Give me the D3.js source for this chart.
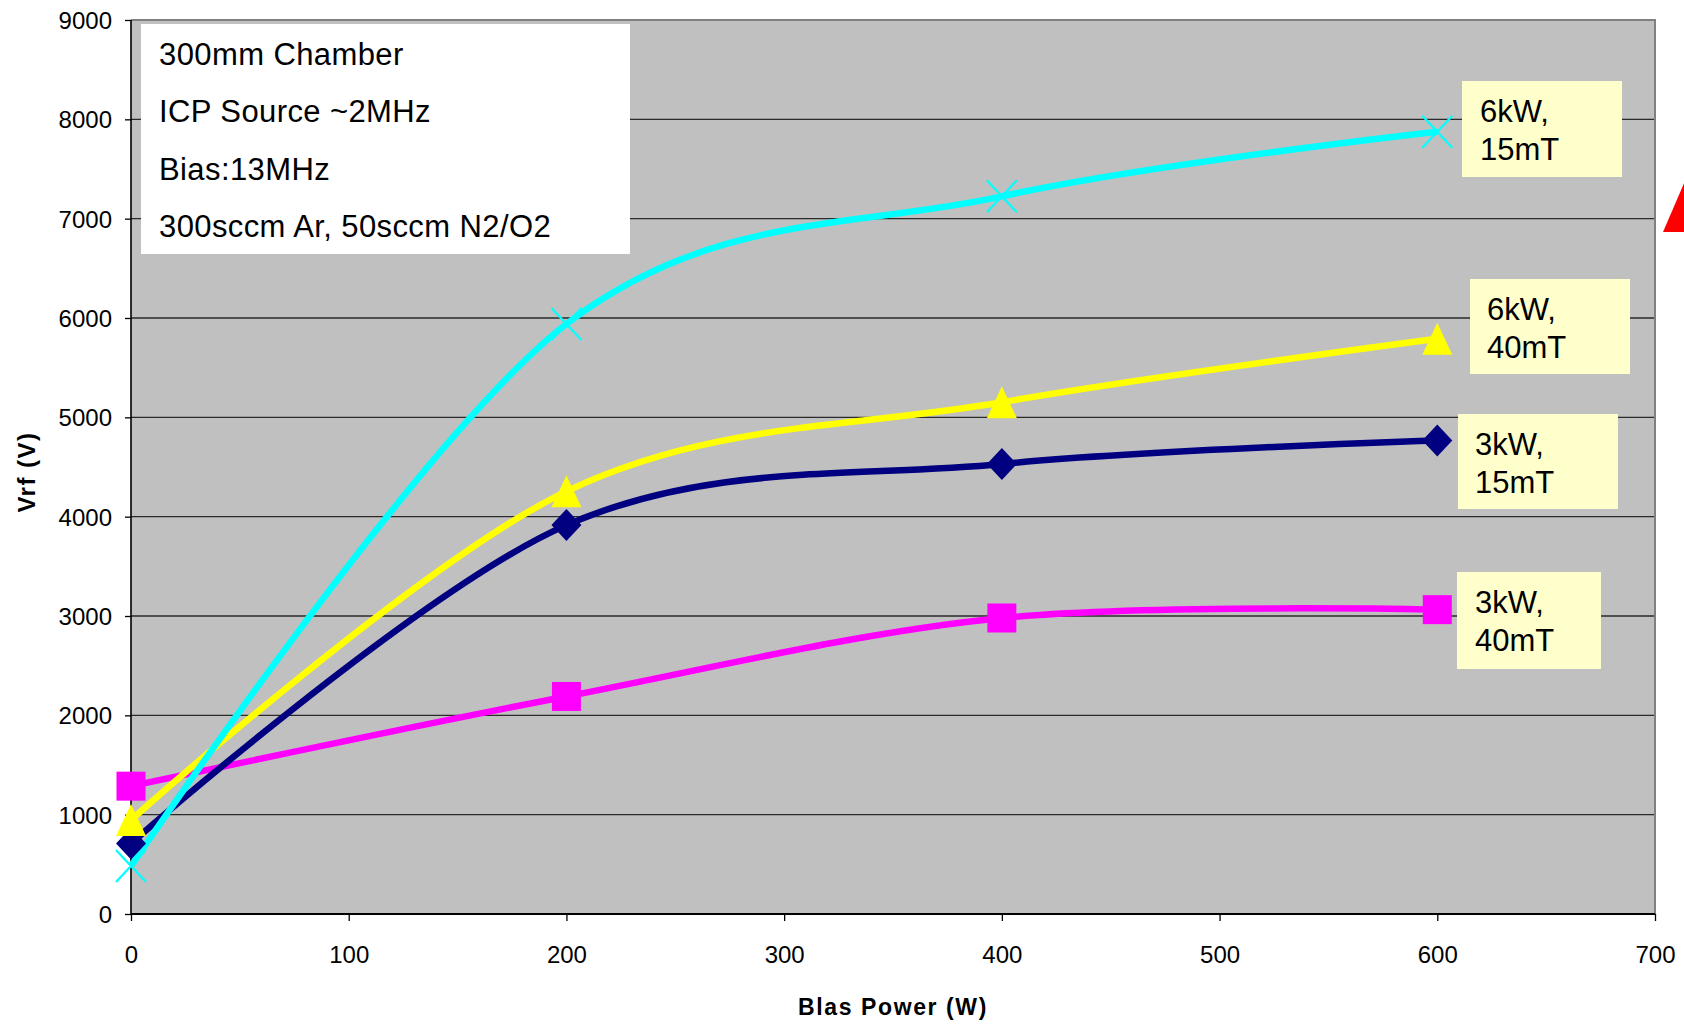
<!DOCTYPE html>
<html><head><meta charset="utf-8">
<script src="https://cdn.jsdelivr.net/npm/d3@7/dist/d3.min.js"></script>
<style>
body{margin:0;background:#fff;}
svg{display:block;font-family:Arial,"Liberation Sans",sans-serif;}
</style>
</head><body>
<svg id="chart" width="1684" height="1024"></svg>
<script>
// ---------- data ----------
const biasPower = [0, 200, 400, 600];
const vrf_3kW_40mT = [1287, 2190, 2980, 3064];
const vrf_3kW_15mT = [710, 3915, 4530, 4766];
const vrf_6kW_40mT = [946, 4255, 5152, 5791];
const vrf_6kW_15mT = [483, 5940, 7225, 7875];
const seriesLabels = [["3kW,", "40mT"], ["3kW,", "15mT"], ["6kW,", "40mT"], ["6kW,", "15mT"]];
const xTicks = [0, 100, 200, 300, 400, 500, 600, 700];
const yTicks = [0, 1000, 2000, 3000, 4000, 5000, 6000, 7000, 8000, 9000];
const infoLines = ["300mm Chamber", "ICP Source ~2MHz", "Bias:13MHz", "300sccm Ar, 50sccm N2/O2"];
const xTitle = "Blas Power (W)";
const yTitle = "Vrf (V)";

// ---------- layout / style ----------
const plot = {left: 131, right: 1655, top: 20, bottom: 914};
const seriesStyle = [
  {color: "#FF00FF", marker: "square"},
  {color: "#000080", marker: "diamond"},
  {color: "#FFFF00", marker: "triangle"},
  {color: "#00FFFF", marker: "x"}
];
const labelBoxes = [
  {x: 1457, y: 572, w: 144, h: 97, tx: 1475},
  {x: 1458, y: 414, w: 160, h: 95, tx: 1475},
  {x: 1470, y: 279, w: 160, h: 95, tx: 1487},
  {x: 1462, y: 81,  w: 160, h: 96, tx: 1480}
];
const seriesValues = [vrf_3kW_40mT, vrf_3kW_15mT, vrf_6kW_40mT, vrf_6kW_15mT];

const svg = d3.select("#chart");
const x = d3.scaleLinear().domain([0, 700]).range([plot.left, plot.right]);
const y = d3.scaleLinear().domain([0, 9000]).range([plot.bottom, plot.top]);

// plot background
svg.append("rect").attr("x", plot.left).attr("y", plot.top)
  .attr("width", plot.right - plot.left).attr("height", plot.bottom - plot.top)
  .attr("fill", "#C0C0C0");

// gridlines
svg.append("g").selectAll("line").data(yTicks.filter(v => v > 0 && v < 9000)).join("line")
  .attr("x1", plot.left).attr("x2", plot.right)
  .attr("y1", d => y(d)).attr("y2", d => y(d))
  .attr("stroke", "#2a2a2a").attr("stroke-width", 1.3);

// plot border top/right (gray)
svg.append("path")
  .attr("d", `M${plot.left},${y(9000)}H${plot.right}V${plot.bottom}`)
  .attr("fill", "none").attr("stroke", "#808080").attr("stroke-width", 2);

// axes
const yAxis = d3.axisLeft(y).tickValues(yTicks).tickSize(6).tickPadding(13).tickFormat(d3.format("d"));
const gy = svg.append("g").attr("transform", `translate(${plot.left},0)`).call(yAxis);
gy.select(".domain").remove();
gy.selectAll("line").attr("stroke", "#000").attr("stroke-width", 1.3);
gy.selectAll("text").attr("font-size", 24).attr("fill", "#000").attr("dy", "0.36em")
  .attr("font-family", "Arial, 'Liberation Sans', sans-serif");

const xAxis = d3.axisBottom(x).tickValues(xTicks).tickSize(7).tickPadding(25).tickFormat(d3.format("d"));
const gx = svg.append("g").attr("transform", `translate(0,${plot.bottom})`).call(xAxis);
gx.select(".domain").remove();
gx.selectAll("line").attr("stroke", "#000").attr("stroke-width", 1.3);
gx.selectAll("text").attr("font-size", 24).attr("fill", "#000")
  .attr("font-family", "Arial, 'Liberation Sans', sans-serif");

svg.append("line").attr("x1", plot.left).attr("x2", plot.left)
  .attr("y1", plot.top).attr("y2", plot.bottom).attr("stroke", "#000").attr("stroke-width", 1.6);
svg.append("line").attr("x1", plot.left).attr("x2", plot.right)
  .attr("y1", plot.bottom).attr("y2", plot.bottom).attr("stroke", "#000").attr("stroke-width", 2);

// axis titles
svg.append("text").attr("x", (plot.left + plot.right) / 2).attr("y", 1015)
  .attr("text-anchor", "middle").attr("font-weight", "bold").attr("font-size", 23)
  .attr("letter-spacing", "1.6px").text(xTitle);
svg.append("text").attr("transform", `translate(35,${(plot.top + plot.bottom) / 2 + 5}) rotate(-90)`)
  .attr("text-anchor", "middle").attr("font-weight", "bold").attr("font-size", 24)
  .attr("letter-spacing", "1.5px").text(yTitle);

// series lines (smoothed, Catmull-Rom style like the original spreadsheet chart)
const line = d3.line().x(d => x(d[0])).y(d => y(d[1])).curve(d3.curveCardinal.tension(0));
const gLines = svg.append("g");
seriesValues.forEach((vals, i) => {
  const pts = biasPower.map((b, j) => [b, vals[j]]);
  gLines.append("path").datum(pts).attr("d", line)
    .attr("fill", "none").attr("stroke", seriesStyle[i].color)
    .attr("stroke-width", 6.5).attr("stroke-linejoin", "round");
});

// markers
const gMarks = svg.append("g");
seriesValues.forEach((vals, i) => {
  const st = seriesStyle[i];
  biasPower.forEach((b, j) => {
    const cx = x(b), cy = y(vals[j]);
    if (st.marker === "square") {
      gMarks.append("rect").attr("x", cx - 14.5).attr("y", cy - 14.5)
        .attr("width", 29).attr("height", 29).attr("fill", st.color);
    } else if (st.marker === "diamond") {
      gMarks.append("path").attr("d", `M${cx},${cy - 16}L${cx + 15},${cy}L${cx},${cy + 16}L${cx - 15},${cy}Z`)
        .attr("fill", st.color);
    } else if (st.marker === "triangle") {
      gMarks.append("path").attr("d", `M${cx},${cy - 16}L${cx + 15},${cy + 16}L${cx - 15},${cy + 16}Z`)
        .attr("fill", st.color);
    } else {
      gMarks.append("path").attr("d", `M${cx - 15},${cy - 16}L${cx + 15},${cy + 16}M${cx + 15},${cy - 16}L${cx - 15},${cy + 16}`)
        .attr("stroke", st.color).attr("stroke-width", 2.2).attr("fill", "none");
    }
  });
});

// info box
svg.append("rect").attr("x", 141).attr("y", 24).attr("width", 489).attr("height", 230).attr("fill", "#fff");
svg.append("g").selectAll("text").data(infoLines).join("text")
  .attr("x", 159).attr("y", (d, i) => 65 + i * 57.4)
  .attr("font-size", 31).attr("letter-spacing", "0.4px").attr("fill", "#000").text(d => d);

// series label boxes
labelBoxes.forEach((b, i) => {
  svg.append("rect").attr("x", b.x).attr("y", b.y).attr("width", b.w).attr("height", b.h).attr("fill", "#FFFFCC");
  seriesLabels[i].forEach((t, k) => {
    svg.append("text").attr("x", b.tx).attr("y", b.y + 41 + k * 38)
      .attr("font-size", 31).attr("fill", "#000").text(t);
  });
});

// partial red shape at right edge
svg.append("path").attr("d", "M1663,232L1688,174L1688,232Z").attr("fill", "#FF0000");
</script>
</body></html>
